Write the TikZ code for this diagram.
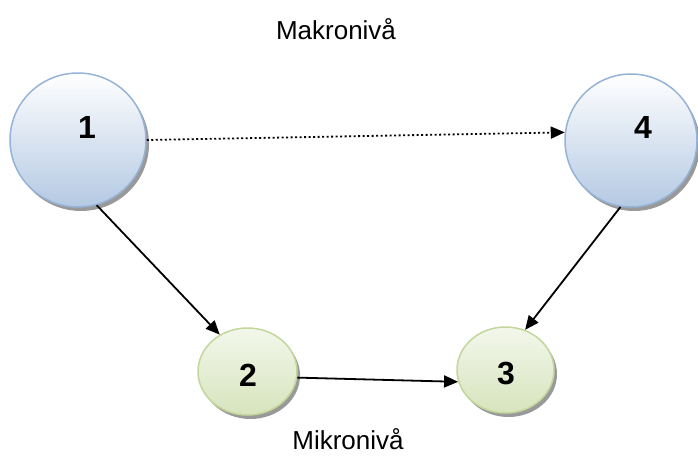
\documentclass[tikz,border=0pt]{standalone}
\usepackage{fontspec}
\setmainfont{Liberation Sans}
\usetikzlibrary{shapes.geometric,shadows,arrows.meta}
\definecolor{blueedge}{HTML}{95B3D7}
\definecolor{bluebot}{HTML}{B4C9E3}
\definecolor{greenedge}{HTML}{C3D69B}
\definecolor{greenbot}{HTML}{D7E4BD}
\tikzset{
  bluenode/.style={ellipse, draw=blueedge, line width=1.5pt, top color=white, bottom color=bluebot,
    drop shadow={shadow xshift=3pt, shadow yshift=-4pt, fill=black!50, opacity=0.8}, inner sep=0pt},
  greennode/.style={ellipse, draw=greenedge, line width=1.5pt, top color=white!70!greenbot, bottom color=greenbot,
    drop shadow={shadow xshift=3pt, shadow yshift=-4pt, fill=black!50, opacity=0.8}, inner sep=0pt},
  numlabel/.style={font=\fontsize{32}{34}\selectfont\bfseries},
  title/.style={font=\fontsize{26}{30}\selectfont, inner sep=0pt},
  arr/.style={-{Triangle[length=14pt,width=12pt]}, line width=1.8pt, black},
  dotline/.style={dash pattern=on 2pt off 2.5pt},
}
\begin{document}
\begin{tikzpicture}[x=1pt,y=-1pt]
\useasboundingbox (0,0) rectangle (698,455);
\node[bluenode, minimum width=136pt, minimum height=134pt] (n1) at (78,140) {};
\node[bluenode, minimum width=132pt, minimum height=133pt] (n4) at (631,140.5) {};
\node[greennode, minimum width=99pt, minimum height=87pt] (n2) at (247.5,371.5) {};
\node[greennode, minimum width=97pt, minimum height=86pt] (n3) at (505.5,370) {};
\node[numlabel] (l1) at (87,127) {1};
\node[numlabel] (l4) at (643,127) {4};
\node[numlabel] (l2) at (248,375) {2};
\node[numlabel] (l3) at (506,374) {3};
\node[title] (mak) at (336,29) {Makronivå};
\node[title] (mik) at (348,439) {Mikronivå};
\draw[arr, dotline] (n1.-0.5) -- (n4.173.5);
\draw[arr] (n1.-74) -- (n2.127);
\draw[arr] (n4.-99) -- (n3.64);
\draw[arr] (n2.-7.5) -- (n3.194);
\end{tikzpicture}
\end{document}
